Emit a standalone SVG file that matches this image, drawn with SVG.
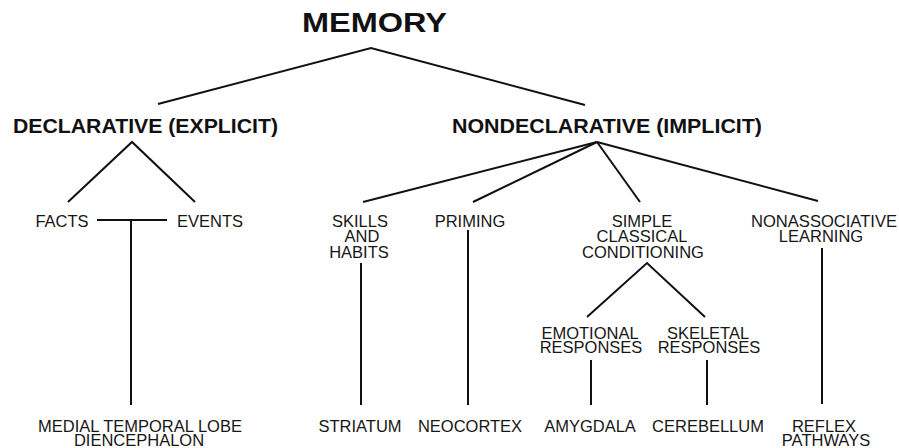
<svg xmlns="http://www.w3.org/2000/svg" width="899" height="448" viewBox="0 0 899 448">
<style>
.t{font-family:"Liberation Sans",Arial,Helvetica,sans-serif;font-size:16.5px;fill:#161616;text-anchor:middle}
.h{font-family:"Liberation Sans",Arial,Helvetica,sans-serif;font-weight:bold;font-size:21px;fill:#111;text-anchor:start}
.m{font-family:"Liberation Sans",Arial,Helvetica,sans-serif;font-weight:bold;font-size:27px;fill:#111;text-anchor:start}
.c line,.c polyline{stroke:#111;stroke-width:2;fill:none;stroke-linecap:butt;stroke-linejoin:miter}
</style>
<rect width="899" height="448" fill="#fff"/>
<g class="c" id="connectors">
<polyline points="158,104 371,48 585,105"/>
<polyline points="68,202 132,142 195,202"/>
<line x1="97" y1="220" x2="167" y2="220"/>
<line x1="131" y1="220" x2="131" y2="405"/>
<line x1="597" y1="142" x2="363" y2="202"/>
<line x1="597" y1="142" x2="473" y2="202"/>
<line x1="597" y1="142" x2="640" y2="202"/>
<line x1="597" y1="142" x2="818" y2="201"/>
<line x1="361" y1="263" x2="361" y2="405"/>
<line x1="468" y1="230" x2="468" y2="405"/>
<polyline points="587,317 647,263 705,317"/>
<line x1="822" y1="248" x2="822" y2="404"/>
<line x1="591" y1="360" x2="591" y2="405"/>
<line x1="707" y1="360" x2="707" y2="405"/>
</g>
<g id="memory"><text class="m" x="302" y="32" textLength="145" lengthAdjust="spacingAndGlyphs">MEMORY</text></g>
<g id="declarative"><text class="h" x="13" y="133" textLength="265" lengthAdjust="spacingAndGlyphs">DECLARATIVE (EXPLICIT)</text></g>
<g id="nondeclarative"><text class="h" x="452" y="133" textLength="310" lengthAdjust="spacingAndGlyphs">NONDECLARATIVE (IMPLICIT)</text></g>
<g id="facts"><text class="t" x="62" y="227">FACTS</text></g>
<g id="events"><text class="t" x="210" y="227">EVENTS</text></g>
<g id="skills"><text class="t" x="360" y="227">SKILLS</text><text class="t" x="362" y="242">AND</text><text class="t" x="359" y="258">HABITS</text></g>
<g id="priming"><text class="t" x="470" y="227">PRIMING</text></g>
<g id="simple"><text class="t" x="642" y="227">SIMPLE</text><text class="t" x="642" y="242">CLASSICAL</text><text class="t" x="643" y="258">CONDITIONING</text></g>
<g id="nonassociative"><text class="t" x="824" y="227" textLength="146" lengthAdjust="spacingAndGlyphs">NONASSOCIATIVE</text><text class="t" x="821" y="242">LEARNING</text></g>
<g id="emotional"><text class="t" x="590" y="339">EMOTIONAL</text><text class="t" x="591" y="353">RESPONSES</text></g>
<g id="skeletal"><text class="t" x="708" y="339">SKELETAL</text><text class="t" x="709" y="353">RESPONSES</text></g>
<g id="medial"><text class="t" x="140" y="432">MEDIAL TEMPORAL LOBE</text><text class="t" x="139" y="446">DIENCEPHALON</text></g>
<g id="striatum"><text class="t" x="360" y="432">STRIATUM</text></g>
<g id="neocortex"><text class="t" x="470" y="432">NEOCORTEX</text></g>
<g id="amygdala"><text class="t" x="590" y="432">AMYGDALA</text></g>
<g id="cerebellum"><text class="t" x="708" y="432">CEREBELLUM</text></g>
<g id="reflex"><text class="t" x="824" y="432">REFLEX</text><text class="t" x="826" y="446">PATHWAYS</text></g>
</svg>
